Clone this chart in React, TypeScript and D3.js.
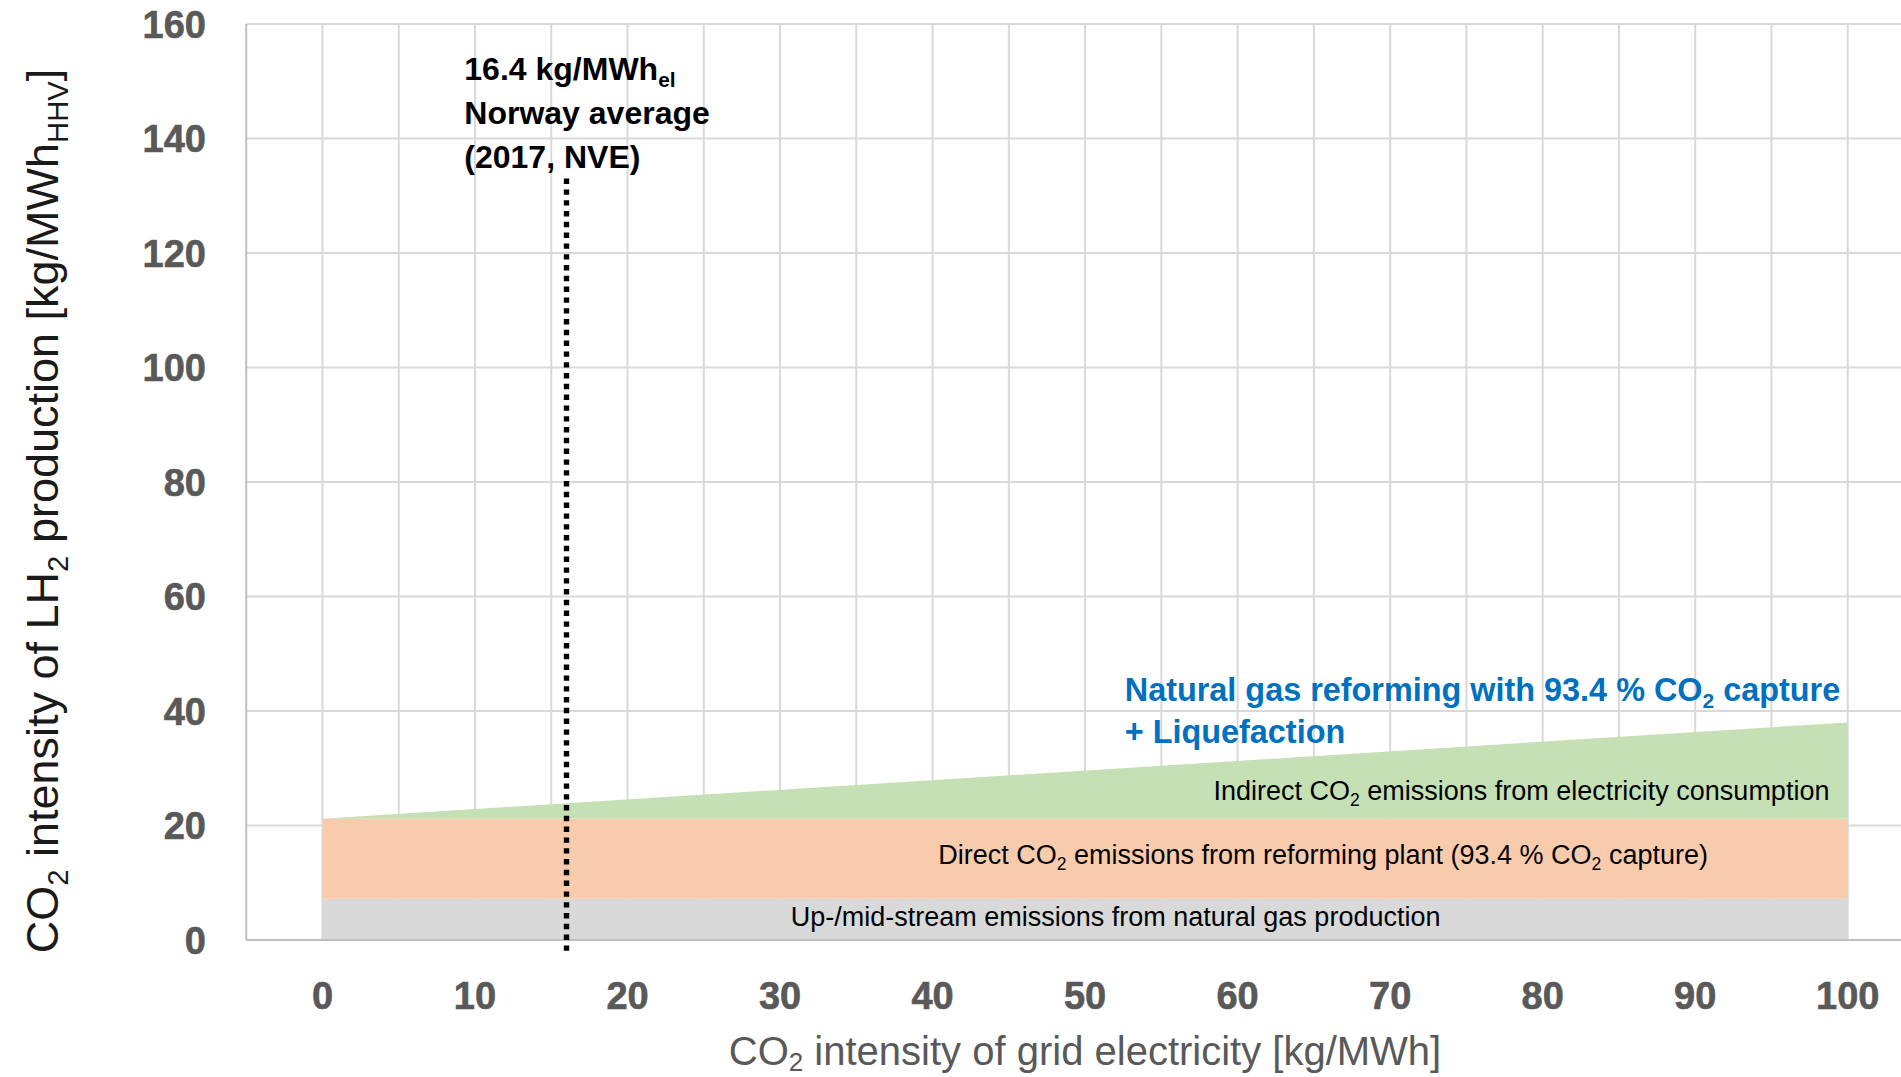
import React from 'react';
import * as d3 from 'd3';

// grid electricity intensity [kg/MWh] and stacked emission shares [kg/MWh_HHV]
const gridIntensity = [0, 100];
const upstream = [7.2, 7.2];
const directPlant = [14.0, 14.0];
const indirectElec = [0, 16.8];

const xTicks = [0, 10, 20, 30, 40, 50, 60, 70, 80, 90, 100];
const yTicks = [0, 20, 40, 60, 80, 100, 120, 140, 160];
const xGrid = [0, 5, 10, 15, 20, 25, 30, 35, 40, 45, 50, 55, 60, 65, 70, 75, 80, 85, 90, 95, 100];

const norwayAvg = 16; // where the dotted marker sits on the axis
const norwayLineTop = 133;
const norwayLineBottom = -2.7;

const W = 1901;
const H = 1077;
const FONT = '"Liberation Sans", Arial, sans-serif';

type Part = [string, boolean?];

// text with subscripts
function rich(parts: Part[], fs: number, shift = 0.22) {
  const out: React.ReactNode[] = [];
  let down = false;
  parts.forEach(([t, sub], i) => {
    if (sub) {
      out.push(<tspan key={i} dy={fs * shift} fontSize={fs * 0.65}>{t}</tspan>);
      down = true;
    } else {
      out.push(<tspan key={i} dy={down ? -fs * shift : 0}>{t}</tspan>);
      down = false;
    }
  });
  return out;
}

export default function App() {
  const x = d3.scaleLinear().domain([-5, 105]).range([246.2, 1924]);
  const y = d3.scaleLinear().domain([0, 160]).range([940, 24]);

  const rows = gridIntensity.map((g, i) => ({
    g,
    upstream: upstream[i],
    direct: directPlant[i],
    indirect: indirectElec[i],
  }));
  const keys = ['upstream', 'direct', 'indirect'];
  const colors: Record<string, string> = {
    upstream: '#d9d9d9',
    direct: '#f8cbad',
    indirect: '#c5e0b4',
  };
  const stacked = d3.stack<any>().keys(keys)(rows);
  const area = d3.area<any>()
    .x((d) => x(d.data.g))
    .y0((d) => y(d[0]))
    .y1((d) => y(d[1]));

  const tickFs = 38;
  const annFs = 32;
  const labFs = 27;

  return (
    <svg width={W} height={H} style={{ position: 'absolute', left: 0, top: 0, background: '#fff' }}>
      {/* gridlines */}
      <g stroke="#d9d9d9" strokeWidth={2}>
        {yTicks.map((t) => (
          <line key={'h' + t} x1={x(-5)} x2={W} y1={y(t)} y2={y(t)} />
        ))}
        {xGrid.map((t) => (
          <line key={'v' + t} x1={x(t)} x2={x(t)} y1={y(160)} y2={y(0)} />
        ))}
      </g>

      {/* stacked areas */}
      {stacked.map((s) => (
        <path key={s.key} d={area(s) || ''} fill={colors[s.key]} />
      ))}

      {/* axes */}
      <line x1={x(-5)} x2={x(-5)} y1={y(160)} y2={y(0)} stroke="#bfbfbf" strokeWidth={2} />
      <line x1={x(-5)} x2={W} y1={y(0)} y2={y(0)} stroke="#bfbfbf" strokeWidth={2} />

      {/* Norway average marker */}
      <line
        x1={x(norwayAvg)} x2={x(norwayAvg)}
        y1={y(norwayLineTop)} y2={y(norwayLineBottom)}
        stroke="#000" strokeWidth={5.4} strokeDasharray="5.4 5.4"
      />

      {/* tick labels */}
      <g fontFamily={FONT} fontWeight="bold" fontSize={tickFs} fill="#595959" stroke="#595959" strokeWidth={0.6}>
        {yTicks.map((t) => (
          <text key={'yl' + t} x={206} y={y(t)} dy="0.36em" textAnchor="end">{t}</text>
        ))}
        {xTicks.map((t) => (
          <text key={'xl' + t} x={x(t)} y={1009} textAnchor="middle">{t}</text>
        ))}
      </g>

      {/* axis titles */}
      <text
        transform={`translate(58, 511) rotate(-90)`}
        textAnchor="middle" fontFamily={FONT} fontSize={45} fill="#1a1a1a"
      >
        {rich([['CO'], ['2', true], [' intensity of LH'], ['2', true], [' production [kg/MWh'], ['HHV', true], [']']], 45)}
      </text>
      <text x={1085} y={1065} textAnchor="middle" fontFamily={FONT} fontSize={40} fill="#595959">
        {rich([['CO'], ['2', true], [' intensity of grid electricity [kg/MWh]']], 40, 0.15)}
      </text>

      {/* annotation */}
      <g fontFamily={FONT} fontWeight="bold" fontSize={annFs} fill="#000">
        <text x={x(9.3)} y={y(150.2)}>{rich([['16.4 kg/MWh'], ['el', true]], annFs)}</text>
        <text x={x(9.3)} y={y(142.5)}>Norway average</text>
        <text x={x(9.3)} y={y(134.8)}>(2017, NVE)</text>
      </g>

      {/* series title */}
      <g fontFamily={FONT} fontWeight="bold" fontSize={32.4} fill="#0070c0">
        <text x={x(52.6)} y={y(41.7)}>
          {rich([['Natural gas reforming with 93.4 % CO'], ['2', true], [' capture']], 32.4)}
        </text>
        <text x={x(52.6)} y={y(34.4)}>+ Liquefaction</text>
      </g>

      {/* layer labels */}
      <g fontFamily={FONT} fontSize={labFs} fill="#000">
        <text x={x(98.8)} y={y(24.5)} textAnchor="end">
          {rich([['Indirect CO'], ['2', true], [' emissions from electricity consumption']], labFs)}
        </text>
        <text x={x(65.6)} y={y(13.3)} textAnchor="middle">
          {rich([['Direct CO'], ['2', true], [' emissions from reforming plant (93.4 % CO'], ['2', true], [' capture)']], labFs)}
        </text>
        <text x={x(52.0)} y={y(2.45)} textAnchor="middle">Up-/mid-stream emissions from natural gas production</text>
      </g>
    </svg>
  );
}
